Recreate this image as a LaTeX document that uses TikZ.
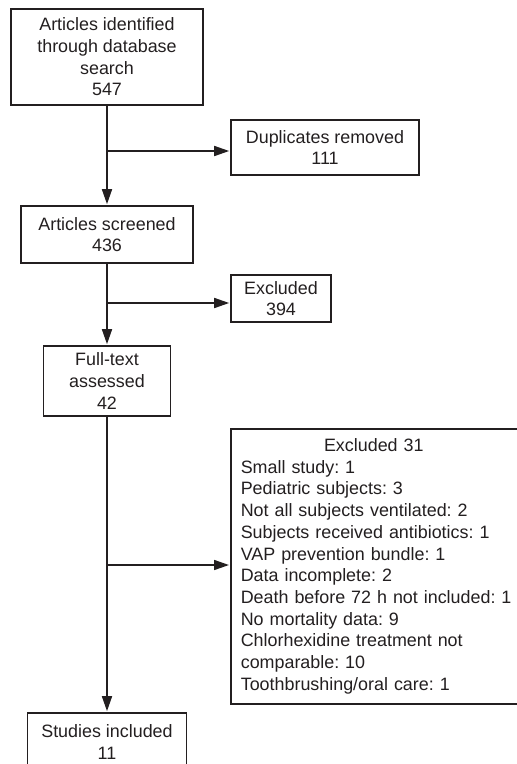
\documentclass[tikz,border=0pt]{standalone}
\usepackage{fontspec}
\setmainfont{Liberation Sans}
\usetikzlibrary{arrows.meta}
\definecolor{tinta}{HTML}{231F20}

\begin{document}
\begin{tikzpicture}[x=1pt,y=-1pt,
  caja/.style={draw=tinta,line width=1.6pt,inner sep=0pt,align=center,text=tinta,font=\fontsize{17.9}{21.7}\selectfont\frenchspacing},
  flecha/.style={draw=tinta,line width=1.6pt,-{Triangle[length=15pt,width=10pt]},shorten >=1pt}]
\def\xm{107};%Eje de las cajas principales
\useasboundingbox (0,0) rectangle (517,764);

%Cajas principales
\node[caja,minimum width=192,minimum height=96] (busqueda) at (\xm,57) {Articles identified\\through database\\search\\547};
\node[caja,minimum width=172,minimum height=57] (cribado) at (\xm,234.5) {Articles screened\\436};
\node[caja,minimum width=127,minimum height=70] (textocompleto) at (\xm,381) {Full-text\\assessed\\42};
\node[caja,minimum width=159,minimum height=58] (incluidos) at (\xm,742) {Studies included\\11};

%Cajas laterales
\node[caja,minimum width=188,minimum height=55] (duplicados) at (325,147.5) {Duplicates removed\\111};
\node[caja,minimum width=100,minimum height=47] (excluidos) at (281,298.5) {Excluded\\394};
\node[caja,align=left,text width=272,inner xsep=10,minimum height=275,anchor=north west] (excluidos31) at (230,428) {\makebox[\linewidth]{\hspace{-6pt}Excluded 31}\\
Small study: 1\\
Pediatric subjects: 3\\
Not all subjects ventilated: 2\\
Subjects received antibiotics: 1\\
VAP prevention bundle: 1\\
Data incomplete: 2\\
Death before 72 h not included: 1\\
No mortality data: 9\\
Chlorhexidine treatment not\\
comparable: 10\\
Toothbrushing/oral care: 1};

%Flechas
\draw[flecha] (busqueda) -- (cribado);
\draw[flecha] (cribado) -- (textocompleto);
\draw[flecha] (textocompleto) -- (incluidos);
\coordinate (r1) at (\xm,151);
\coordinate (r2) at (\xm,303);
\coordinate (r3) at (\xm,565);
\draw[flecha] (r1) -- (r1 -| duplicados.west);
\draw[flecha] (r2) -- (r2 -| excluidos.west);
\draw[flecha] (r3) -- (r3 -| excluidos31.west);
\end{tikzpicture}
\end{document}
